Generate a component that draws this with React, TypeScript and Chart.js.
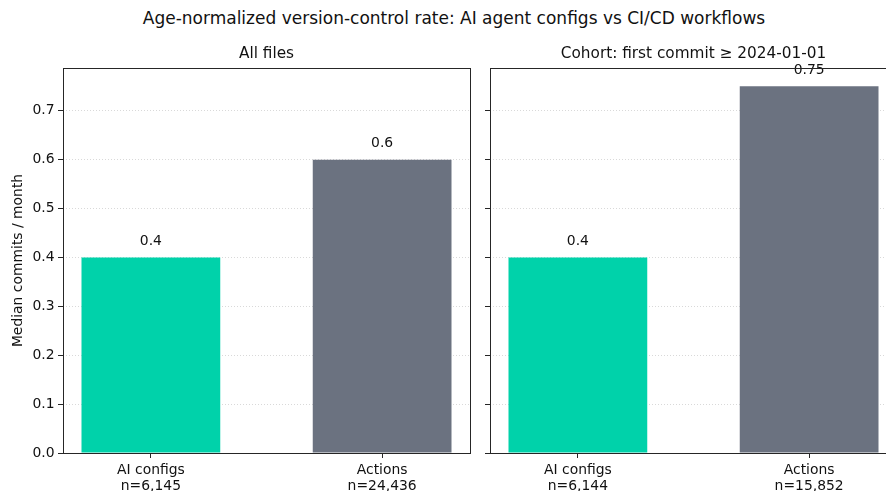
import React, { useEffect, useRef } from "react";
import { Chart, registerables } from "chart.js";

Chart.register(...registerables);

const suptitle = "Age-normalized version-control rate: AI agent configs vs CI/CD workflows";
const panelTitles = ["All files", "Cohort: first commit \u2265 2024-01-01"];
const categories = ["AI configs", "Actions"];
const allFilesValues = [0.4, 0.6];
const allFilesCounts = ["n=6,145", "n=24,436"];
const cohortValues = [0.4, 0.75];
const cohortCounts = ["n=6,144", "n=15,852"];
const yTicks = [0, 0.1, 0.2, 0.3, 0.4, 0.5, 0.6, 0.7];
const yMax = 0.7875;
const yTitle = "Median commits / month";
const barColors = ["#00d2aa", "#6b7280"];

const FONT = "'DejaVu Sans', sans-serif";
const SPINE = "#262626";
const TICK_FONT = 13.9;

const frameAndLabels = {
  id: "frameAndLabels",
  afterDatasetsDraw(chart: any) {
    const ctx = chart.ctx;
    const meta = chart.getDatasetMeta(0);
    const data = chart.data.datasets[0].data as any[];
    ctx.save();
    ctx.fillStyle = "#111";
    ctx.font = `${TICK_FONT}px ${FONT}`;
    ctx.textAlign = "center";
    ctx.textBaseline = "middle";
    meta.data.forEach((bar: any, i: number) => {
      ctx.fillText(String(data[i].y), bar.x, bar.y - 16);
    });
    ctx.restore();
  },
  afterDraw(chart: any) {
    const { ctx, chartArea } = chart;
    ctx.save();
    ctx.strokeStyle = SPINE;
    ctx.lineWidth = 1;
    ctx.strokeRect(
      Math.round(chartArea.left) + 0.5,
      Math.round(chartArea.top) + 0.5,
      Math.round(chartArea.right - chartArea.left),
      Math.round(chartArea.bottom - chartArea.top)
    );
    ctx.restore();
  },
};

function makeConfig(
  title: string,
  values: number[],
  counts: string[],
  showY: boolean,
  padRight: number,
  yWidth: number
): any {
  return {
    type: "bar",
    data: {
      datasets: [
        {
          data: values.map((v, i) => ({ x: i, y: v })),
          backgroundColor: barColors,
          borderWidth: 0,
          categoryPercentage: 1,
          barPercentage: 0.6,
        },
      ],
    },
    plugins: [frameAndLabels],
    options: {
      animation: false,
      responsive: false,
      layout: { padding: { top: 40, right: padRight, left: 0, bottom: 0 } },
      plugins: {
        legend: { display: false },
        tooltip: { enabled: false },
        title: {
          display: true,
          fullSize: false,
          text: title,
          color: "#111",
          font: { family: FONT, size: 15.3, weight: "normal", lineHeight: 1.2 },
          padding: { top: 4.8, bottom: 4.8 },
        },
      },
      scales: {
        x: {
          type: "linear",
          offset: false,
          min: -0.38,
          max: 1.38,
          afterBuildTicks: (s: any) => {
            s.ticks = categories.map((_, i) => ({ value: i }));
          },
          afterFit: (s: any) => {
            s.height = 38;
          },
          ticks: {
            autoSkip: false,
            maxRotation: 0,
            padding: 4,
            color: "#111",
            font: { family: FONT, size: TICK_FONT, lineHeight: 1.15 },
            callback: (v: any) => [categories[v], counts[v]],
          },
          grid: {
            offset: false,
            drawOnChartArea: false,
            tickLength: 5,
            tickColor: SPINE,
            tickWidth: 1,
          },
          border: { display: false },
        },
        y: {
          min: 0,
          max: yMax,
          afterBuildTicks: (s: any) => {
            s.ticks = yTicks.map((v) => ({ value: v }));
          },
          afterFit: (s: any) => {
            s.width = yWidth;
          },
          ticks: {
            display: showY,
            padding: 3.5,
            color: "#111",
            font: { family: FONT, size: TICK_FONT },
            callback: (v: any) => Number(v).toFixed(1),
          },
          grid: {
            color: "#d9d9d9",
            lineWidth: 1,
            tickLength: 5,
            tickColor: SPINE,
            tickBorderDash: [10, 0],
            tickWidth: 1,
          },
          border: { display: false, dash: [1, 2] },
          title: {
            display: showY,
            text: yTitle,
            color: "#111",
            font: { family: FONT, size: TICK_FONT },
            padding: { top: 10, bottom: 0 },
          },
        },
      },
    },
  };
}

function Panel(props: { left: number; width: number; config: any }) {
  const ref = useRef<HTMLCanvasElement | null>(null);
  useEffect(() => {
    if (!ref.current) return;
    const chart = new Chart(ref.current, props.config);
    return () => chart.destroy();
  }, []);
  return (
    <canvas
      ref={ref}
      width={props.width}
      height={491}
      style={{ position: "absolute", left: props.left, top: 0, width: props.width, height: 491 }}
    />
  );
}

export default function App() {
  return (
    <div
      style={{
        position: "fixed",
        left: 0,
        top: 0,
        width: 886,
        height: 491,
        background: "#fff",
        overflow: "hidden",
      }}
    >
      <div
        style={{
          position: "absolute",
          left: 0,
          top: 7,
          width: 908,
          textAlign: "center",
          fontFamily: FONT,
          fontSize: 17,
          lineHeight: "22px",
          color: "#111",
          whiteSpace: "nowrap",
        }}
      >
        {suptitle}
      </div>
      <Panel
        left={0}
        width={480}
        config={makeConfig(panelTitles[0], allFilesValues, allFilesCounts, true, 10, 63)}
      />
      <Panel
        left={480}
        width={427}
        config={makeConfig(panelTitles[1], cohortValues, cohortCounts, false, 10, 10)}
      />
    </div>
  );
}
